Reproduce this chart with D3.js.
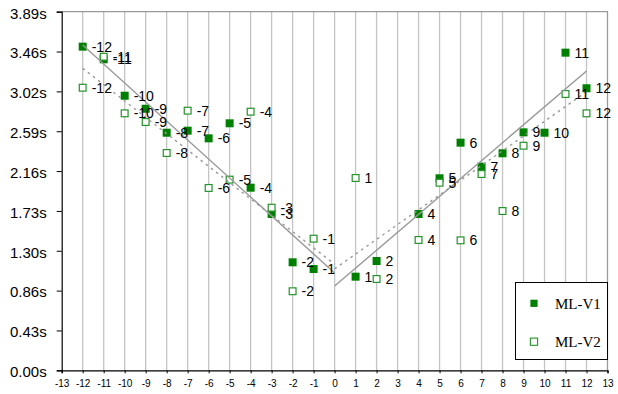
<!DOCTYPE html>
<html>
<head>
<meta charset="utf-8">
<script src="https://cdn.jsdelivr.net/npm/d3@7"></script>
<style>
  html, body { margin: 0; padding: 0; background: #fff; }
  svg { display: block; }
</style>
</head>
<body>
<svg id="chart" width="618" height="394"></svg>
<script>
// Offset (frames) for each measurement
const v1Offsets = [-12, -11, -10, -9, -8, -7, -6, -5, -4, -3, -2, -1, 1, 2, 4, 5, 6, 7, 8, 9, 10, 11, 12];
const v1Times   = [3.509, 3.372, 2.977, 2.836, 2.576, 2.598, 2.515, 2.678, 1.980, 1.695, 1.171, 1.098,
                   1.015, 1.185, 1.695, 2.082, 2.468, 2.208, 2.353, 2.580, 2.576, 3.444, 3.058];

const v2Offsets = [-12, -11, -10, -9, -8, -7, -6, -5, -4, -3, -2, -1, 1, 2, 4, 5, 6, 7, 8, 9, 11, 12];
const v2Times   = [3.064, 3.400, 2.786, 2.692, 2.356, 2.815, 1.977, 2.067, 2.804, 1.763, 0.857, 1.427,
                   2.085, 0.990, 1.413, 2.034, 1.409, 2.128, 1.727, 2.435, 2.996, 2.786];

// Trend lines, one per side of zero: [value at start, value at end]
const trendSpanLeft  = [-12, 0];
const trendSpanRight = [0, 12];
const v1TrendLeft  = [3.527, 1.055];
const v1TrendRight = [0.913, 3.245];
const v2TrendLeft  = [3.274, 1.150];
const v2TrendRight = [1.100, 3.020];

// Axis ticks
const xTickValues = d3.range(-13, 14);
const yTickValues = d3.range(0, 10).map(i => +(i * 0.432).toFixed(3));
const yTickLabels = ["0.00s", "0.43s", "0.86s", "1.30s", "1.73s", "2.16s", "2.59s", "3.02s", "3.46s", "3.89s"];

const seriesNames = ["ML-V1", "ML-V2"];

const svg = d3.select("#chart");
const plotL = 61.7, plotR = 607.5, plotT = 11.7, plotB = 370.3;

const x = d3.scaleLinear().domain([-13, 13]).range([plotL, plotR]);
const y = d3.scaleLinear().domain([0, 3.888]).range([plotB, plotT]);

const green = "#008000";
const openGreen = "#24922a";
const gridColor = "#c4c4c4";

// vertical grid lines
svg.append("g")
  .selectAll("line")
  .data(xTickValues.filter(v => v > -13 && v < 13))
  .join("line")
  .attr("x1", d => x(d)).attr("x2", d => x(d))
  .attr("y1", plotT).attr("y2", plotB)
  .attr("stroke", gridColor)
  .attr("stroke-width", 1.3);

// plot frame (top and right)
svg.append("path")
  .attr("d", `M${plotL},${plotT}H${plotR}V${plotB}`)
  .attr("fill", "none")
  .attr("stroke", "#9a9a9a")
  .attr("stroke-width", 1.3);

// axes
const xAxis = d3.axisBottom(x).tickValues(xTickValues).tickSize(3).tickPadding(7)
  .tickFormat(d => String(d));
const gx = svg.append("g").attr("transform", `translate(0,${plotB})`).call(xAxis);
gx.select(".domain").attr("stroke", "#000").attr("stroke-width", 1.2);
gx.selectAll(".tick line").attr("stroke", "#000");
gx.selectAll("text")
  .attr("font-family", "Liberation Sans, Arial, sans-serif")
  .attr("font-size", 10)
  .attr("fill", "#000");

const yAxis = d3.axisLeft(y).tickValues(yTickValues).tickSize(5).tickPadding(10)
  .tickFormat((d, i) => yTickLabels[i]);
const gy = svg.append("g").attr("transform", `translate(${plotL},0)`).call(yAxis);
gy.select(".domain").attr("stroke", "#000").attr("stroke-width", 1.2);
gy.selectAll(".tick line").attr("stroke", "#000");
gy.selectAll("text")
  .attr("font-family", "Liberation Sans, Arial, sans-serif")
  .attr("font-size", 15)
  .attr("fill", "#000")
  .attr("dy", "0.42em");

const v1 = v1Offsets.map((o, i) => ({ o, t: v1Times[i] }));
const v2 = v2Offsets.map((o, i) => ({ o, t: v2Times[i] }));
const ms = 8;

// markers: filled series first, open series on top
svg.append("g").selectAll("rect")
  .data(v1).join("rect")
  .attr("x", d => x(d.o) - ms / 2).attr("y", d => y(d.t) - ms / 2)
  .attr("width", ms).attr("height", ms)
  .attr("fill", green);

svg.append("g").selectAll("rect")
  .data(v2).join("rect")
  .attr("x", d => x(d.o) - ms / 2 + 0.6).attr("y", d => y(d.t) - ms / 2 + 0.6)
  .attr("width", ms - 1.2).attr("height", ms - 1.2)
  .attr("fill", "#fff")
  .attr("stroke", openGreen)
  .attr("stroke-width", 1.2);

// trend lines
const trendLine = d3.line().x(d => x(d[0])).y(d => y(d[1]));
const trends = [
  { span: trendSpanLeft,  vals: v1TrendLeft,  dash: null },
  { span: trendSpanRight, vals: v1TrendRight, dash: null },
  { span: trendSpanLeft,  vals: v2TrendLeft,  dash: "2.5,4" },
  { span: trendSpanRight, vals: v2TrendRight, dash: "2.5,4" }
];
svg.append("g").selectAll("path")
  .data(trends).join("path")
  .attr("d", d => trendLine(d.span.map((s, i) => [s, d.vals[i]])))
  .attr("fill", "none")
  .attr("stroke", "#999")
  .attr("stroke-width", 1.4)
  .attr("stroke-dasharray", d => d.dash);

// value labels (offset number next to each marker)
const labelG = svg.append("g")
  .attr("font-family", "Liberation Sans, Arial, sans-serif")
  .attr("font-size", 14)
  .attr("fill", "#000");
labelG.selectAll("text.l1").data(v1).join("text").attr("class", "l1")
  .attr("x", d => x(d.o) + 9).attr("y", d => y(d.t)).attr("dy", "0.36em")
  .text(d => String(d.o));
labelG.selectAll("text.l2").data(v2).join("text").attr("class", "l2")
  .attr("x", d => x(d.o) + 9).attr("y", d => y(d.t)).attr("dy", "0.36em")
  .text(d => String(d.o));

// legend
const lg = svg.append("g");
lg.append("rect")
  .attr("x", 515.5).attr("y", 282.5).attr("width", 92).attr("height", 77)
  .attr("fill", "#fff").attr("stroke", "#000").attr("stroke-width", 1);
const legendRows = [
  { name: seriesNames[0], filled: true,  cy: 303.3 },
  { name: seriesNames[1], filled: false, cy: 341.7 }
];
legendRows.forEach(r => {
  lg.append("rect")
    .attr("x", 534 - 3.6).attr("y", r.cy - 3.6).attr("width", 7.2).attr("height", 7.2)
    .attr("fill", r.filled ? green : "#fff")
    .attr("stroke", r.filled ? "none" : openGreen)
    .attr("stroke-width", 1.1);
  lg.append("text")
    .attr("x", 555).attr("y", r.cy + 5.5)
    .attr("font-family", "Liberation Serif, Times New Roman, serif")
    .attr("font-size", 15)
    .attr("fill", "#000")
    .text(r.name);
});
</script>
</body>
</html>
